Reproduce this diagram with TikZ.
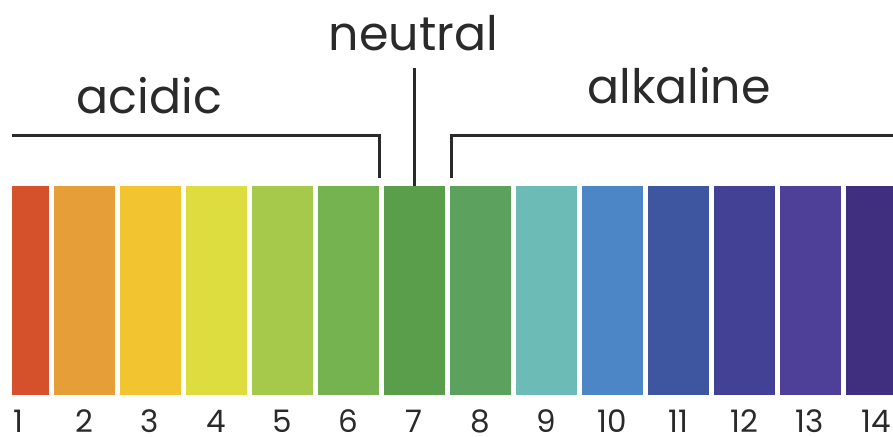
\documentclass[tikz,border=0pt]{standalone}
\usepackage{fontspec}
\setmainfont{Poppins}
\definecolor{c1}{HTML}{D4512C}
\definecolor{c2}{HTML}{E69E38}
\definecolor{c3}{HTML}{F2C530}
\definecolor{c4}{HTML}{DEDD3F}
\definecolor{c5}{HTML}{A6C84B}
\definecolor{c6}{HTML}{74B34F}
\definecolor{c7}{HTML}{5A9E4C}
\definecolor{c8}{HTML}{5CA25E}
\definecolor{c9}{HTML}{6DBBB6}
\definecolor{c10}{HTML}{4C86C6}
\definecolor{c11}{HTML}{3E56A0}
\definecolor{c12}{HTML}{434196}
\definecolor{c13}{HTML}{4E3F98}
\definecolor{c14}{HTML}{3F2F7E}
\definecolor{ink}{HTML}{2A2A2A}
\tikzset{
  bar/.style={draw=none, inner sep=0pt, minimum height=208.5pt, anchor=north west},
  num/.style={text=ink, font=\fontsize{31}{33}\selectfont, anchor=base, inner sep=0pt},
  lbl/.style={text=ink, font=\fontsize{47.5}{52}\selectfont, anchor=base, inner sep=0pt},
  bracket/.style={draw=ink, line width=3pt}
}
\begin{document}
\begin{tikzpicture}[x=1pt, y=-1pt]
\useasboundingbox (0,0) rectangle (893,436);
% bars
\node[bar, fill=c1, minimum width=36.8pt] (b1) at (12,186) {};
\foreach \k in {2,...,13}{
  \node[bar, fill=c\k, minimum width=61.5pt] (b\k) at ({66*\k-78.7},186) {};
}
\node[bar, fill=c14, minimum width=47.7pt] (b14) at (845.3,186) {};
% numbers
\foreach \k in {1,...,14}{
  \node[num] (n\k) at ({66*\k-47.95},432.5) {\k};
}
% labels
\node[lbl] (acidic) at (149.5,113) {acidic};
\node[lbl] (neutral) at (413.5,50) {neutral};
\node[lbl] (alkaline) at (679,103) {alkaline};
% brackets
\coordinate (aL) at (12,135);
\coordinate (aC) at (379,135);
\coordinate (aE) at (379,178);
\coordinate (kE) at (451,178);
\coordinate (kC) at (451,135);
\coordinate (kR) at (893,135);
\coordinate (nT) at (414.3,68);
\draw[bracket] (aL) -- (aC) -- (aE);
\draw[bracket] (kE) -- (kC) -- (kR);
\draw[bracket] (nT) -- (nT |- b7.north);
\end{tikzpicture}
\end{document}
